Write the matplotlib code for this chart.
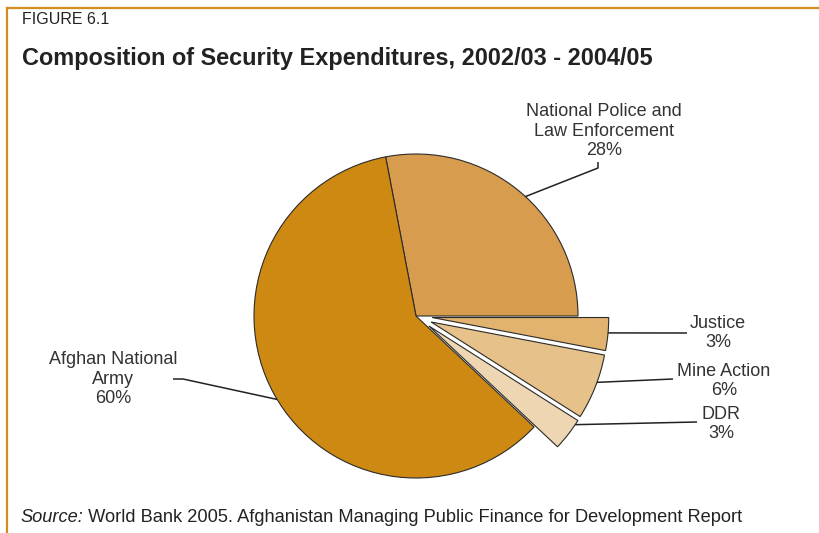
import matplotlib
matplotlib.use("Agg")
import matplotlib.pyplot as plt
import numpy as np
from matplotlib.lines import Line2D

plt.rcParams['font.family'] = ['Liberation Sans', 'DejaVu Sans']

# Security expenditure shares, 2002/03 - 2004/05 (percent)
categories = ['National Police and\nLaw Enforcement', 'Afghan National\nArmy',
              'DDR', 'Mine Action', 'Justice']
shares = [28, 60, 3, 6, 3]
colors = ['#D79C4E', '#CD8912', '#EED6B2', '#E6C189', '#E2B36E']
explode = [0, 0, 0.1, 0.1, 0.1]
small_radius = 1.09

W, H = 820, 533
CX, CY, R = 416, 316, 162  # pie centre and radius in pixels

fig = plt.figure(figsize=(W / 100, H / 100), dpi=100)
ax = fig.add_axes([0, 0, 1, 1])


def px(x, y):
    # pixel position (from top-left) -> data coordinates
    return (x - CX) / R, (CY - y) / R


wedges, _ = ax.pie(shares, colors=colors, explode=explode, startangle=0,
                   counterclock=True, radius=1.0, center=(0, 0),
                   wedgeprops=dict(edgecolor='#2b2b2b', linewidth=0.8))
for w, e in zip(wedges, explode):
    if e > 0:
        w.set_radius(small_radius)

# pie() resets the limits, so set them afterwards
ax.set_xlim(-CX / R, (W - CX) / R)
ax.set_ylim(-(H - CY) / R, CY / R)
ax.axis('off')


def anchor(w, ang):
    cx, cy = w.center
    a = np.deg2rad(ang)
    return cx + w.r * np.cos(a), cy + w.r * np.sin(a)


line_kw = dict(color='#222222', linewidth=1.1, solid_capstyle='butt')
txt_kw = dict(fontsize=13, color='#333333', ha='center', va='center',
              linespacing=1.22)

# leader lines: (wedge index, angle on arc, path to the label in pixels)
leaders = [
    (0, 47.5, [(598, 168), (598, 162)]),
    (1, 211, [(183, 379), (173, 379)]),
    (4, -5, [(687, 333)]),
    (3, -20, [(673, 379)]),
    (2, -34, [(697, 422)]),
]
for i, ang, path in leaders:
    pts = [anchor(wedges[i], ang)] + [px(*p) for p in path]
    xs, ys = zip(*pts)
    ax.add_line(Line2D(xs, ys, **line_kw))

label_pos = [(604, 131), (113, 379), (721, 424), (724, 381), (718, 333)]
for name, val, (x, y) in zip(categories, shares, label_pos):
    ax.text(*px(x, y), f'{name}\n{val}%', **txt_kw)

# header and source
fig.text(22 / W, 1 - 20 / H, 'FIGURE 6.1', fontsize=11.5, color='#222222',
         va='center', ha='left')
fig.text(22 / W, 1 - 58 / H, 'Composition of Security Expenditures, 2002/03 - 2004/05',
         fontsize=16.9, fontweight='bold', color='#222222', va='center', ha='left')
src = fig.text(20 / W, 1 - 517 / H, 'Source:', fontsize=13.15, style='italic',
               color='#222222', va='center', ha='left')
ax.annotate(' World Bank 2005. Afghanistan Managing Public Finance for Development Report',
            xy=(1, 0.5), xycoords=src, va='center', ha='left', fontsize=13.15,
            color='#222222')

# frame lines on the top and left edges
frame = '#D38C1F'
fig.add_artist(Line2D([7 / W, 1], [1 - 8 / H, 1 - 8 / H], color=frame, linewidth=1.6,
                      transform=fig.transFigure))
fig.add_artist(Line2D([7 / W, 7 / W], [0, 1 - 8 / H], color=frame, linewidth=1.6,
                      transform=fig.transFigure))

fig.savefig('out.png', dpi=100)
